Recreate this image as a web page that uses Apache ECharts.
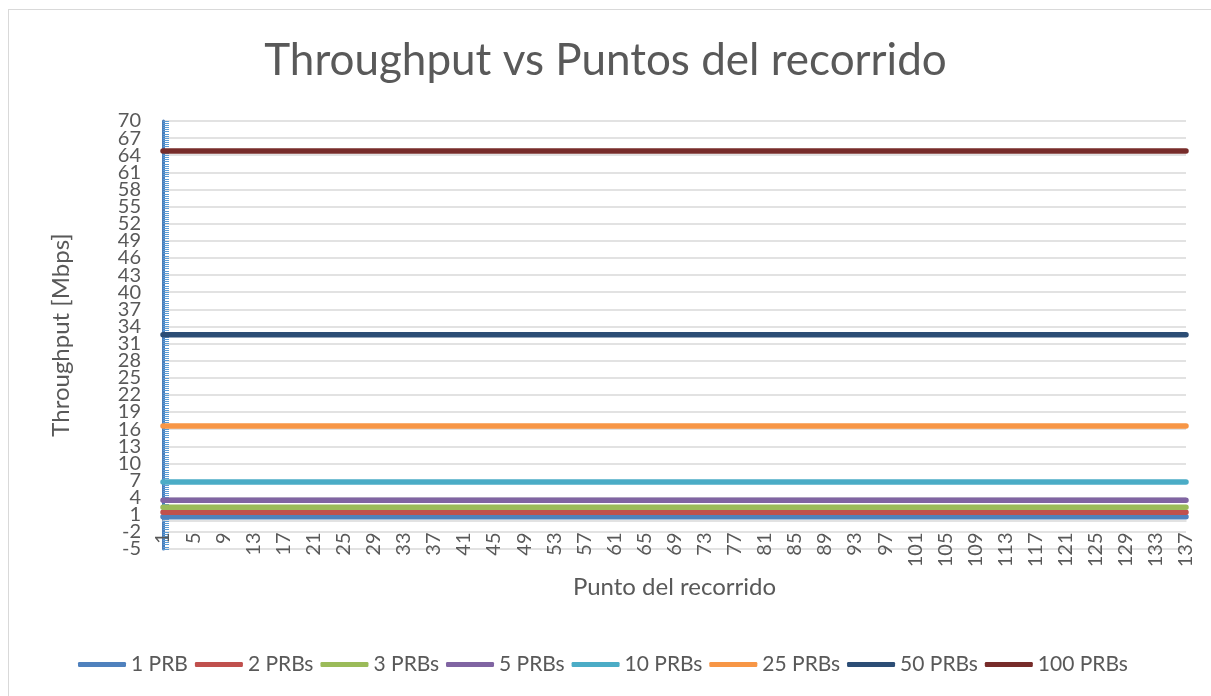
<!DOCTYPE html>
<html>
<head>
<meta charset="utf-8">
<script src="https://cdn.jsdelivr.net/npm/echarts@6/dist/echarts.min.js"></script>
<style>
  html, body { margin: 0; padding: 0; background: #fff; }
  #chart { width: 1211px; height: 696px; position: relative; }
  .frame {
    position: absolute; left: 8px; top: 9px; width: 1220px; height: 700px;
    border: 1px solid #d9d9d9; box-sizing: border-box; pointer-events: none;
  }
</style>
</head>
<body>
<div id="chart"></div>
<div class="frame"></div>
<script>
// puntos del recorrido (eje X)
const puntos = [];
for (let i = 1; i <= 137; i++) puntos.push(String(i));

// series: nombre, throughput constante (Mbps), color
const nombres = ['1 PRB', '2 PRBs', '3 PRBs', '5 PRBs', '10 PRBs', '25 PRBs', '50 PRBs', '100 PRBs'];
const throughput = [0.66, 1.44, 2.31, 3.54, 6.74, 16.56, 32.56, 64.74];
const colores = ['#4f81bd', '#c0504d', '#9bbb59', '#8064a2', '#4bacc6', '#f79646', '#2c4d75', '#772c2a'];

// eje Y: -5 a 70 de 3 en 3; las dos etiquetas junto a los extremos van en un eje aparte
const yMin = -5, yMax = 70, yPaso = 3;
const etiquetasAparte = [-2, 67];

const fuente = 'Lato, "Open Sans", sans-serif';
const gris = '#595959';

const chart = echarts.init(document.getElementById('chart'));

const series = nombres.map((n, i) => ({
  name: n,
  type: 'line',
  yAxisIndex: 0,
  data: puntos.map(() => throughput[i]),
  showSymbol: false,
  symbol: 'none',
  lineStyle: { width: 5.5, color: colores[i], cap: 'round' },
  itemStyle: { color: colores[i] },
  z: 3
}));

const labelBase = {
  margin: 22, fontFamily: fuente, fontSize: 20, color: gris,
  showMinLabel: true, showMaxLabel: true, hideOverlap: false
};

chart.setOption({
  animation: false,
  textStyle: { fontFamily: fuente },
  title: {
    text: 'Throughput vs Puntos del recorrido',
    left: 'center',
    top: 34,
    textStyle: { fontFamily: fuente, fontSize: 44, fontWeight: 'normal', color: gris }
  },
  legend: {
    top: 649,
    left: 73,
    icon: 'roundRect',
    itemWidth: 48,
    itemHeight: 5,
    itemGap: 7,
    textStyle: { fontFamily: fuente, fontSize: 21, color: gris },
    data: nombres
  },
  grid: { left: 163, right: 25, top: 121, bottom: 147 },
  xAxis: {
    type: 'category',
    data: puntos,
    boundaryGap: false,
    // el eje horizontal cruza en 0, no en el minimo
    offset: -28.5,
    name: 'Punto del recorrido',
    nameLocation: 'middle',
    nameGap: 55,
    nameTextStyle: { fontFamily: fuente, fontSize: 24, color: gris },
    axisLine: { onZero: false, lineStyle: { color: '#d9d9d9', width: 1.5 } },
    axisTick: { show: false },
    axisLabel: {
      interval: 3,
      rotate: 90,
      margin: 12,
      fontFamily: fuente,
      fontSize: 20,
      color: gris
    },
    splitLine: { show: false }
  },
  yAxis: [{
    type: 'value',
    min: yMin,
    max: yMax,
    interval: yPaso,
    name: 'Throughput [Mbps]',
    nameLocation: 'middle',
    nameGap: 90,
    nameTextStyle: { fontFamily: fuente, fontSize: 24, color: gris },
    axisLine: { show: true, lineStyle: { color: '#4a7ebb', width: 3 } },
    axisTick: { show: true, inside: true, length: 6, lineStyle: { color: '#5b9bd5', width: 1 } },
    minorTick: { show: true, splitNumber: 8, length: 6, lineStyle: { color: '#5b9bd5', width: 1 } },
    axisLabel: Object.assign({}, labelBase, {
      formatter: v => etiquetasAparte.includes(v) ? '' : String(v)
    }),
    splitLine: { show: true, lineStyle: { color: '#d9d9d9', width: 1.5 } }
  }, {
    type: 'value',
    position: 'left',
    min: yMin,
    max: yMax,
    interval: yPaso,
    axisLine: { show: false },
    axisTick: { show: false },
    splitLine: { show: false },
    axisLabel: Object.assign({}, labelBase, {
      formatter: v => etiquetasAparte.includes(v) ? String(v) : ''
    })
  }],
  series: series
});
</script>
</body>
</html>
